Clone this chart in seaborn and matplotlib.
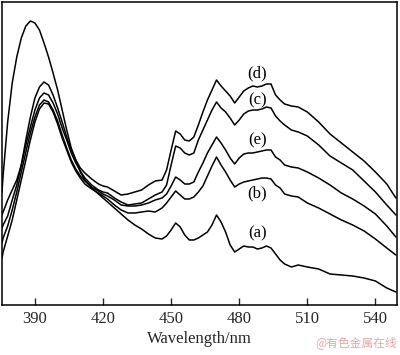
import numpy as np
import pandas as pd
import matplotlib
matplotlib.use("Agg")
import matplotlib.pyplot as plt
import seaborn as sns

# Wavelength grid (nm)
wavelength = [375.5, 376, 378, 380, 382, 384, 386, 388, 390, 392, 394, 396, 398, 400,
              402, 404, 406, 408, 410, 412, 415, 418, 420, 422, 425, 428, 431, 434,
              437, 440, 443, 446, 448, 450, 452, 454, 456, 458, 460, 462, 464, 466,
              468, 470, 472, 474, 476, 478, 480, 482, 484, 486, 488, 490, 492, 494,
              496, 498, 500, 503, 506, 510, 515, 520, 525, 530, 535, 540, 545, 549]

curve_a = [192, 175, 122, 83, 57, 38, 26, 21, 23, 30, 43, 57, 73, 90,
           110, 130, 148, 160, 172, 180, 188, 194, 198, 202, 208, 214, 220, 225,
           229, 234, 238, 239, 236, 230, 223, 227, 235, 240, 240, 238, 235, 232,
           225, 215, 222, 232, 245, 252, 249, 246, 247, 247, 249, 248, 246, 248,
           254, 260, 264, 267, 265, 267, 269, 274, 275, 276, 278, 281, 288, 292]
curve_b = [258, 252, 236, 220, 200, 180, 160, 140, 122, 109, 103, 104, 112, 124,
           138, 150, 162, 171, 178, 184, 189, 193, 196, 199, 205, 210, 213, 213,
           212, 211, 212, 208, 203, 197, 191, 195, 199, 199, 197, 192, 186, 176,
           166, 157, 165, 172, 180, 187, 184, 182, 181, 180, 179, 178, 178, 179,
           185, 188, 194, 196, 197, 203, 208, 214, 220, 225, 231, 239, 248, 255]
curve_c = [228, 225, 216, 200, 185, 165, 145, 127, 110, 98, 93, 95, 103, 114,
           128, 140, 153, 163, 171, 178, 185, 190, 192, 193, 198, 202, 205, 204,
           203, 199, 195, 192, 185, 165, 146, 148, 153, 155, 153, 140, 130, 120,
           110, 102, 108, 112, 118, 125, 120, 114, 111, 110, 110, 109, 107, 108,
           116, 121, 125, 130, 132, 136, 145, 156, 163, 170, 181, 192, 205, 215]
curve_d = [215, 212, 200, 190, 180, 165, 140, 117, 98, 87, 82, 85, 95, 108,
           122, 137, 150, 160, 168, 173, 179, 184, 186, 187, 191, 195, 194, 192,
           190, 185, 181, 180, 170, 150, 131, 134, 140, 141, 137, 125, 112, 100,
           90, 80, 86, 91, 96, 103, 97, 91, 88, 86, 87, 86, 84, 84,
           95, 100, 104, 106, 107, 112, 122, 134, 143, 152, 161, 172, 184, 198]
curve_e = [243, 238, 226, 210, 192, 172, 152, 133, 117, 105, 100, 102, 110, 121,
           135, 148, 160, 169, 176, 181, 187, 191, 194, 196, 200, 205, 206, 206,
           205, 203, 200, 198, 194, 186, 177, 180, 184, 184, 182, 172, 163, 153,
           145, 137, 143, 150, 158, 164, 158, 154, 153, 153, 152, 151, 150, 150,
           157, 160, 165, 167, 168, 172, 178, 185, 193, 199, 206, 214, 226, 237]

frame_top = 305
samples = ["(a)", "(b)", "(c)", "(d)", "(e)"]
series = [curve_a, curve_b, curve_c, curve_d, curve_e]

# label anchors (nm, intensity)
label_x = [488, 488, 488, 488, 488]
label_y = [72, 112, 205, 232, 165]

frames = []
for name, vals in zip(samples, series):
    frames.append(pd.DataFrame({"wavelength": wavelength,
                                "intensity": frame_top - np.array(vals, dtype=float),
                                "sample": name}))
df = pd.concat(frames, ignore_index=True)

sns.set_style("ticks")
plt.rcParams["font.family"] = ["Liberation Serif", "DejaVu Serif"]

fig = plt.figure(figsize=(4.0, 3.55), dpi=100)
ax = fig.add_axes([2 / 400, 50 / 355, 395 / 400, 303 / 355])

sns.lineplot(data=df, x="wavelength", y="intensity", hue="sample",
             palette=["black"] * 5, linewidth=1.1, legend=False, ax=ax,
             sort=False, estimator=None)

for s, lx, ly in zip(samples, label_x, label_y):
    ax.text(lx, ly, s, fontsize=12, ha="center", va="center", color="black")

ax.set_xlim(375.5, 549.5)
ax.set_ylim(0, 303)
ax.set_xticks([390, 420, 450, 480, 510, 540])
ax.set_yticks([])
ax.tick_params(axis="x", direction="in", length=5, width=1, labelsize=12, pad=4)
ax.set_xlabel("Wavelength/nm", fontsize=12, labelpad=3)
ax.set_ylabel("")
for sp in ax.spines.values():
    sp.set_visible(True)
    sp.set_linewidth(1.1)
    sp.set_color("black")

fig.text(397 / 400, 12 / 355, "@有色金属在线", fontsize=8.5, color="#e8a8a8",
         ha="right", va="center", family=["Noto Sans CJK SC", "DejaVu Sans"])

fig.savefig("out.png", dpi=100)
